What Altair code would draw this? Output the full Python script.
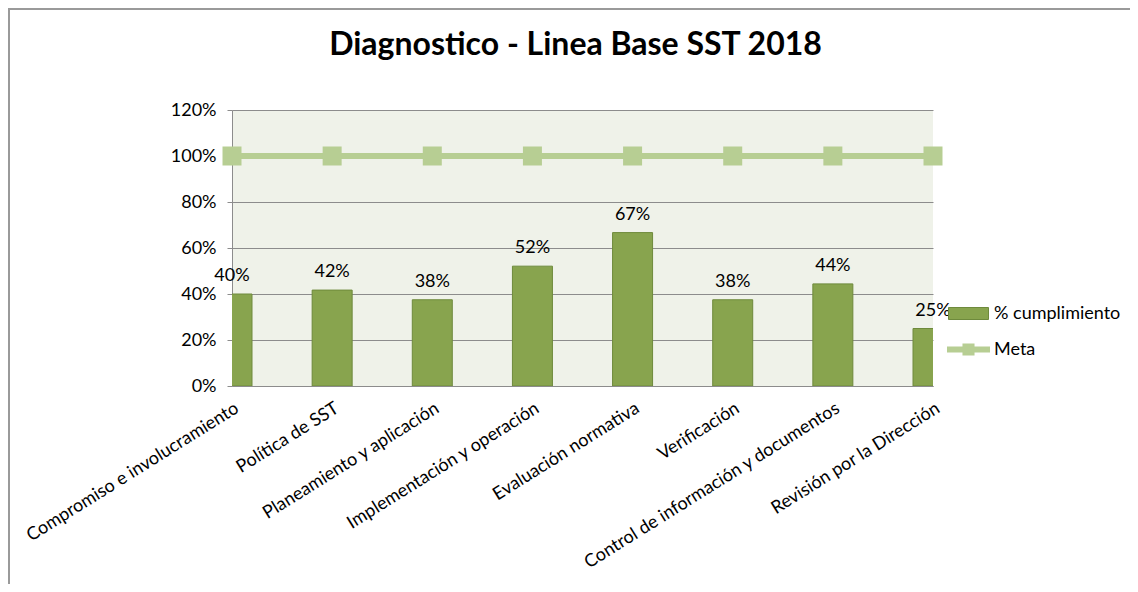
import altair as alt
import pandas as pd

categories = [
    "Compromiso e involucramiento",
    "Política de SST",
    "Planeamiento y aplicación",
    "Implementación y operación",
    "Evaluación normativa",
    "Verificación",
    "Control de información y documentos",
    "Revisión por la Dirección",
]
cumplimiento = [0.40, 0.417, 0.375, 0.521, 0.667, 0.375, 0.444, 0.25]
meta = [1.0, 1.0, 1.0, 1.0, 1.0, 1.0, 1.0, 1.0]
y_ticks = [0, 0.2, 0.4, 0.6, 0.8, 1.0, 1.2]

df = pd.DataFrame({
    "categoria": categories,
    "cumplimiento": cumplimiento,
    "meta": meta,
    "serie_bar": ["% cumplimiento"] * len(categories),
    "serie_meta": ["Meta"] * len(categories),
})

FONT = "Lato"
BAR = "#88A44E"
BAR_EDGE = "#6E8A3C"
META = "#B7CE93"
GRID = "#8C8C8C"
FS = 18

x_enc = alt.X(
    "categoria:N",
    sort=categories,
    scale=alt.Scale(type="point", padding=0),
    axis=alt.Axis(
        title=None, labelAngle=328, labelAlign="right", labelBaseline="top",
        labelFontSize=FS, labelFont=FONT, labelColor="black", labelLimit=500,
        labelPadding=13, ticks=False, domainColor=GRID, grid=False,
    ),
)
y_scale = alt.Scale(domain=[0, 1.2], nice=False)

base = alt.Chart(df)

bars = base.mark_bar(size=40, stroke=BAR_EDGE, strokeWidth=1, clip=True).encode(
    x=x_enc,
    y=alt.Y(
        "cumplimiento:Q", scale=y_scale,
        axis=alt.Axis(
            title=None, values=y_ticks, format=".0%", grid=True, gridColor=GRID,
            domainColor=GRID, tickColor=GRID, tickSize=5, labelFontSize=FS,
            labelFont=FONT, labelColor="black", labelPadding=11,
        ),
    ),
    color=alt.Color(
        "serie_bar:N",
        scale=alt.Scale(domain=["% cumplimiento"], range=[BAR]),
        legend=alt.Legend(
            title=None, orient="none", legendX=716, legendY=183, padding=0,
            symbolType="M-1,-0.3H1V0.3H-1Z", symbolSize=1600,
            symbolStrokeColor=BAR_EDGE, symbolStrokeWidth=1,
            labelFontSize=FS, labelFont=FONT, labelColor="black", labelOffset=5,
        ),
    ),
)

line = base.mark_line(color=META, strokeWidth=6).encode(
    x=x_enc, y=alt.Y("meta:Q", scale=y_scale)
)

points = base.mark_point(shape="square", filled=True, size=361, opacity=1).encode(
    x=x_enc,
    y=alt.Y("meta:Q", scale=y_scale),
    color=alt.Color(
        "serie_meta:N",
        scale=alt.Scale(domain=["Meta"], range=[META]),
        legend=alt.Legend(
            title=None, orient="none", legendX=714, legendY=217, padding=0,
            symbolType="M-1,-0.14H1V0.14H-1Z M-0.28,-0.28H0.28V0.28H-0.28Z",
            symbolSize=1849, symbolOpacity=1,
            labelFontSize=FS, labelFont=FONT, labelColor="black", labelOffset=3,
        ),
    ),
)

labels = base.mark_text(
    fontSize=FS, font=FONT, color="black", baseline="alphabetic", dy=-13
).encode(
    x=x_enc,
    y=alt.Y("cumplimiento:Q", scale=y_scale),
    text=alt.Text("cumplimiento:Q", format=".0%"),
)

frame = base.mark_rect(fill="transparent", stroke="#9A9A9A", strokeWidth=2, clip=False).encode(
    x=alt.value(-223), x2=alt.value(960), y=alt.value(-101), y2=alt.value(540)
)

chart = alt.layer(frame, bars, line, points, labels).resolve_scale(
    color="independent"
).properties(
    width=701,
    height=276,
    padding={"left": 224, "top": 102, "right": 197, "bottom": 198},
    autosize=alt.AutoSizeParams(type="none"),
    background="white",
    title=alt.TitleParams(
        "Diagnostico - Linea Base SST 2018", fontSize=32, font=FONT,
        fontWeight="bold", color="black", anchor="middle", dx=-7, offset=0, dy=54,
    ),
).configure_view(fill="#EFF2E9", strokeWidth=0)

chart.save("out.html", embed_options={"renderer": "svg", "actions": False})
